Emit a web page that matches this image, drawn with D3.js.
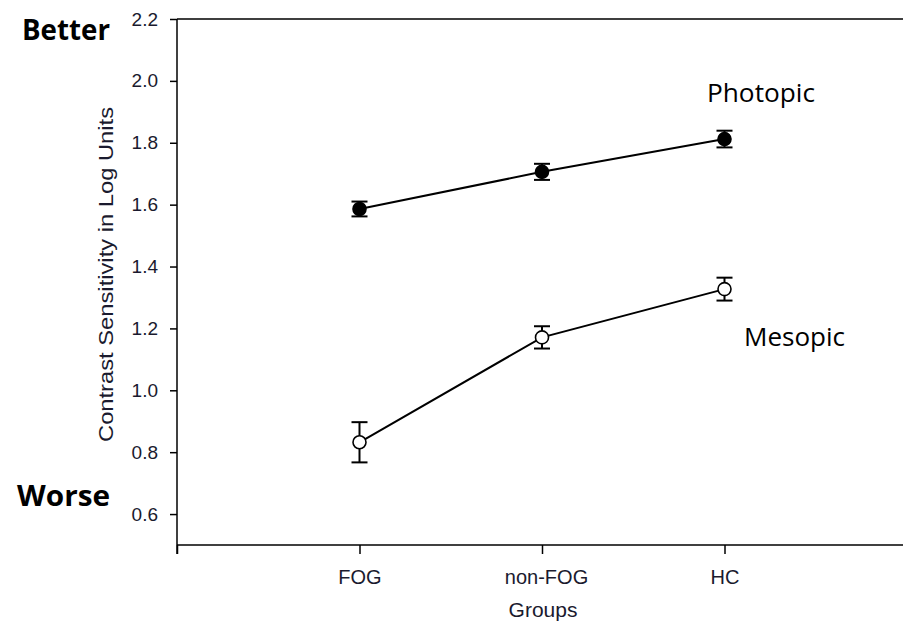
<!DOCTYPE html>
<html>
<head>
<meta charset="utf-8">
<script src="https://cdn.jsdelivr.net/npm/d3@7"></script>
<style>
  body { margin: 0; background: #fff; }
  svg { display: block; }
</style>
</head>
<body>
<div id="chart"></div>
<script>
// Data
const groups = ["FOG", "non-FOG", "HC"];
const photopic = [1.586, 1.706, 1.812];
const photopicErr = [0.024, 0.026, 0.027];
const mesopic = [0.832, 1.171, 1.327];
const mesopicErr = [0.065, 0.036, 0.037];
const yTicks = [0.6, 0.8, 1.0, 1.2, 1.4, 1.6, 1.8, 2.0, 2.2];

const W = 903, H = 629;
const margin = {top: 19, right: -4, bottom: 84, left: 177};

const svg = d3.select("#chart").append("svg")
    .attr("width", W)
    .attr("height", H);

const x = d3.scaleLinear().domain([0, 4]).range([margin.left, W - margin.right]);
const y = d3.scaleLinear().domain([0.5, 2.2]).range([H - margin.bottom, margin.top]);

const tickFont = "'Liberation Sans', Arial, sans-serif";

// frame (top line, right side is cut off)
svg.append("path")
    .attr("d", `M${x(0)},${y(2.2)}H${x(4)}V${y(0.5)}`)
    .attr("fill", "none")
    .attr("stroke", "#000")
    .attr("stroke-width", 1.5);

// y axis
const yAxis = svg.append("g")
    .attr("transform", `translate(${x(0)},0)`)
    .call(d3.axisLeft(y).tickValues(yTicks).tickSize(7).tickPadding(12)
        .tickFormat(d3.format(".1f")));
yAxis.select(".domain").attr("d", `M0,${y(2.2)}V${y(0.5) + 9}`)
    .attr("stroke-width", 1.5);
yAxis.selectAll(".tick line").attr("stroke-width", 1.5);
yAxis.selectAll("text")
    .attr("font-family", tickFont)
    .attr("font-size", 19)
    .attr("fill", "#1a1a2e");

// x axis
const xAxis = svg.append("g")
    .attr("transform", `translate(0,${y(0.5)})`)
    .call(d3.axisBottom(x).tickValues([0, 1, 2, 3]).tickSize(9).tickPadding(16)
        .tickFormat(d => d === 0 ? "" : groups[d - 1]));
xAxis.select(".domain").attr("d", `M${x(0)},0H${x(4)}`).attr("stroke-width", 1.5);
xAxis.selectAll(".tick line").attr("stroke-width", 1.5);
xAxis.selectAll("text")
    .attr("font-family", tickFont)
    .attr("font-size", 20)
    .attr("fill", "#1a1a2e")
    .attr("dx", d => d === 2 ? 4 : 0);

// axis titles
svg.append("text")
    .attr("transform", `translate(113,${(107 + 442) / 2}) rotate(-90)`)
    .attr("text-anchor", "middle")
    .attr("font-family", tickFont)
    .attr("font-size", 21)
    .attr("fill", "#1a1a2e")
    .attr("textLength", 335)
    .attr("lengthAdjust", "spacingAndGlyphs")
    .text("Contrast Sensitivity in Log Units");

svg.append("text")
    .attr("x", 543)
    .attr("y", 617)
    .attr("text-anchor", "middle")
    .attr("font-family", tickFont)
    .attr("font-size", 21)
    .attr("fill", "#1a1a2e")
    .text("Groups");

// series
const series = [
  {name: "Photopic", values: photopic, err: photopicErr, fill: "#000"},
  {name: "Mesopic", values: mesopic, err: mesopicErr, fill: "#fff"}
];

const line = d3.line().x((d, i) => x(i + 1)).y(d => y(d));

series.forEach(s => {
  const g = svg.append("g");
  g.append("path")
      .attr("d", line(s.values))
      .attr("fill", "none")
      .attr("stroke", "#000")
      .attr("stroke-width", 2);

  const bars = g.selectAll(".err").data(s.values).enter().append("g");
  bars.append("line")
      .attr("x1", (d, i) => x(i + 1)).attr("x2", (d, i) => x(i + 1))
      .attr("y1", (d, i) => y(d - s.err[i])).attr("y2", (d, i) => y(d + s.err[i]))
      .attr("stroke", "#000").attr("stroke-width", 2);
  [1, -1].forEach(sign => {
    bars.append("line")
        .attr("x1", (d, i) => x(i + 1) - 8).attr("x2", (d, i) => x(i + 1) + 8)
        .attr("y1", (d, i) => y(d + sign * s.err[i]))
        .attr("y2", (d, i) => y(d + sign * s.err[i]))
        .attr("stroke", "#000").attr("stroke-width", 2);
  });

  g.selectAll("circle").data(s.values).enter().append("circle")
      .attr("cx", (d, i) => x(i + 1))
      .attr("cy", d => y(d))
      .attr("r", 6.5)
      .attr("fill", s.fill)
      .attr("stroke", "#000")
      .attr("stroke-width", 1.6);
});

// annotations
const noteFont = "'Open Sans', 'Noto Sans', sans-serif";
svg.append("text").attr("x", 707).attr("y", 102)
    .attr("font-family", noteFont).attr("font-size", 25)
    .attr("textLength", 108).attr("lengthAdjust", "spacingAndGlyphs")
    .text("Photopic");
svg.append("text").attr("x", 744).attr("y", 346)
    .attr("font-family", noteFont).attr("font-size", 25)
    .attr("textLength", 101).attr("lengthAdjust", "spacingAndGlyphs")
    .text("Mesopic");

svg.append("text").attr("x", 22).attr("y", 40)
    .attr("font-family", noteFont).attr("font-size", 29).attr("font-weight", "bold")
    .attr("textLength", 88).attr("lengthAdjust", "spacingAndGlyphs")
    .text("Better");
svg.append("text").attr("x", 17).attr("y", 506)
    .attr("font-family", noteFont).attr("font-size", 29).attr("font-weight", "bold")
    .attr("textLength", 93).attr("lengthAdjust", "spacingAndGlyphs")
    .text("Worse");
</script>
</body>
</html>
